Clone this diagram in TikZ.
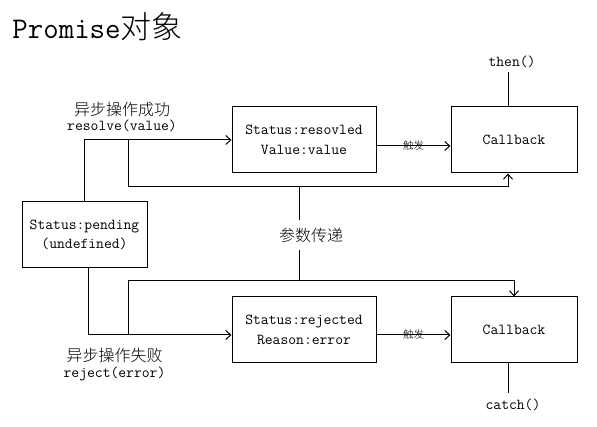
\documentclass[tikz,border=0pt]{standalone}
\usepackage{fontspec}
\usetikzlibrary{arrows.meta}
\newcommand\lmono{\ttfamily}
\newfontfamily\cjk{Noto Sans CJK SC Light}
\begin{document}
\begin{tikzpicture}[x=1pt,y=-1pt,line width=1pt,
  box/.style={draw,inner sep=0pt,align=center,minimum height=66pt,font=\lmono\fontsize{15.2}{19.5}\selectfont},
  lat/.style={font=\lmono\fontsize{15.2}{16}\selectfont,inner sep=0pt},
  zh/.style={font=\cjk\fontsize{16}{18}\selectfont,inner sep=0pt},
  trig/.style={font=\cjk\fontsize{10.5}{12}\selectfont,inner sep=0pt},
  arr/.style={-{Straight Barb[length=5pt,width=9pt]}}]
\useasboundingbox (0,0) rectangle (597,427);
\node[anchor=base west,inner sep=0pt] (title) at (12,39) {\lmono\fontsize{30}{32}\selectfont Promise\cjk\fontsize{31}{34}\selectfont 对象};
% boxes
\node[box,minimum width=125pt] (pend) at (84.5,235) {Status:pending\\(undefined)};
\node[box,minimum width=144pt] (res) at (304,140) {Status:resovled\\Value:value};
\node[box,minimum width=126pt] (cb1) at (514,140) {Callback};
\node[box,minimum width=144pt] (rej) at (304,330) {Status:rejected\\Reason:error};
\node[box,minimum width=126pt] (cb2) at (514,330) {Callback};
% labels
\node[zh] (s1) at (122,109) {异步操作成功};
\node[lat] (s2) at (122,126) {resolve(value)};
\node[zh] (f1) at (114.5,355) {异步操作失败};
\node[lat] (f2) at (114.5,374) {reject(error)};
\node[zh,inner xsep=0pt,inner ysep=7.5pt] (param) at (311,235) {参数传递};
\node[lat] (then) at (512,62) {then()};
\node[lat] (catch) at (513,405) {catch()};
% coordinates
\coordinate (j1) at (128,139);
\coordinate (k1) at (128,187);
\coordinate (m1) at (299,187);
\coordinate (m2) at (299,281);
\coordinate (k2) at (128,281);
\coordinate (j2) at (128,335);
\coordinate (tt) at (508,72);
\coordinate (cc) at (508,393);
% connectors
\draw[arr] (pend.north) |- (res.west);
\draw[arr] ([xshift=3.5pt]pend.south) |- ([yshift=-5pt]rej.west);
\draw[arr] (j1) -- (k1) -| ([xshift=-6pt]cb1.south);
\draw (m1) -- (m1 |- param.north);
\draw (param.south -| m1) -- (m2);
\draw[arr] (j2) -- (k2) -| (cb2.north);
\draw[arr] ([yshift=-6pt]res.east) -- node[trig] (t1) {触发} ([yshift=-6pt]cb1.west);
\draw[arr] ([yshift=-5pt]rej.east) -- node[trig] (t2) {触发} ([yshift=-5pt]cb2.west);
\draw ([xshift=-6pt]cb1.north) -- (tt);
\draw ([xshift=-6pt]cb2.south) -- (cc);
\end{tikzpicture}
\end{document}
